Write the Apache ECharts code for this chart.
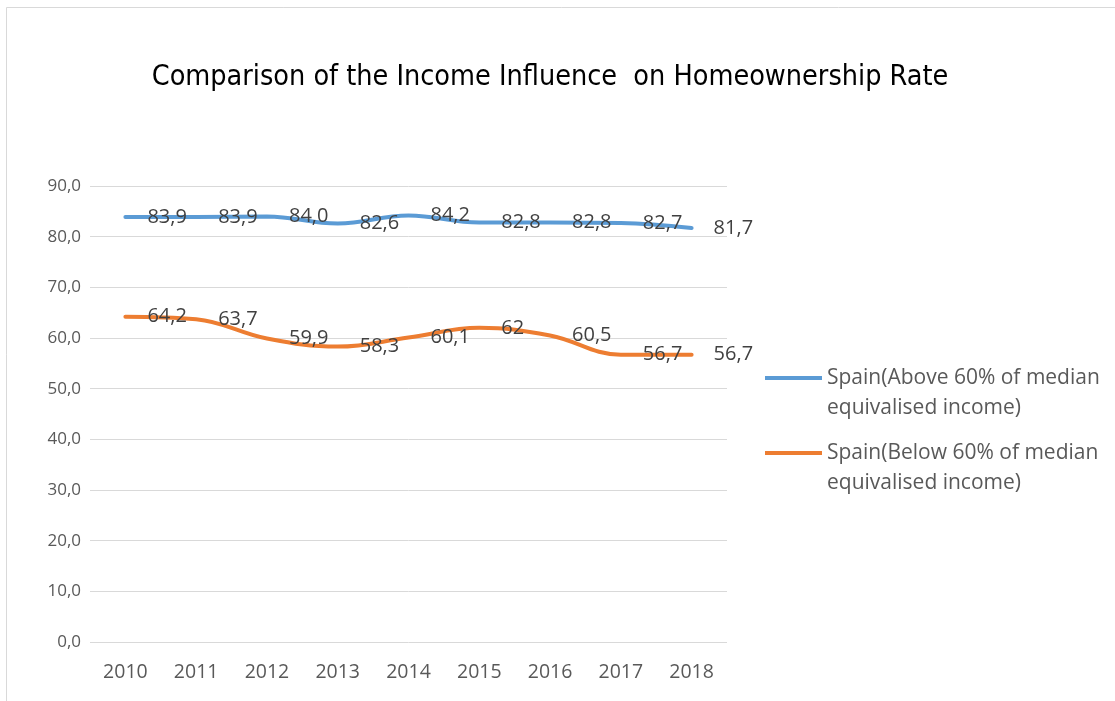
<!DOCTYPE html>
<html>
<head>
<meta charset="utf-8">
<script src="https://cdn.jsdelivr.net/npm/echarts@6/dist/echarts.min.js"></script>
<style>
html,body{margin:0;padding:0;background:#fff;}
#chart{width:1115px;height:701px;}
</style>
</head>
<body>
<div id="chart"></div>
<script>
const titleText = 'Comparison of the Income Influence  on Homeownership Rate';
const years = ['2010','2011','2012','2013','2014','2015','2016','2017','2018'];
const aboveName = 'Spain(Above 60% of median\nequivalised income)';
const belowName = 'Spain(Below 60% of median\nequivalised income)';
const aboveValues = [83.9, 83.9, 84.0, 82.6, 84.2, 82.8, 82.8, 82.7, 81.7];
const belowValues = [64.2, 63.7, 59.9, 58.3, 60.1, 62, 60.5, 56.7, 56.7];
const yMin = 0, yMax = 90, yStep = 10;

const chart = echarts.init(document.getElementById('chart'), null, {renderer: 'canvas'});
const labelFont = 'Open Sans, Noto Sans, sans-serif';
function mkSeries(name, data, color, fmt) {
  return {
    name: name,
    type: 'line',
    data: data,
    smooth: 0.4,
    symbol: 'circle',
    symbolSize: 0,
    showSymbol: true,
    lineStyle: {color: color, width: 4, cap: 'round'},
    itemStyle: {color: color},
    label: {
      show: true,
      position: 'right',
      distance: 22,
      color: '#404040',
      fontSize: 20,
      fontFamily: labelFont,
      formatter: p => fmt(p.value)
    }
  };
}
chart.setOption({
  animation: false,
  backgroundColor: '#fff',
  title: {
    text: titleText,
    left: 545,
    textAlign: 'center',
    top: 58,
    textStyle: {
      fontFamily: 'Liberation Sans Narrow, DejaVu Sans Condensed, sans-serif',
      fontWeight: 'normal',
      fontSize: 28.5,
      color: '#000'
    }
  },
  graphic: [{
    type: 'rect',
    shape: {x: 6.5, y: 7.5, width: 1300, height: 900},
    style: {fill: 'none', stroke: '#d9d9d9', lineWidth: 1},
    silent: true
  }],
  grid: {left: 90, right: 388, top: 186, bottom: 59, containLabel: false},
  legend: {
    orient: 'vertical',
    left: 760,
    top: 328,
    itemWidth: 57,
    itemHeight: 4,
    itemGap: -15,
    icon: 'rect',
    formatter: name => '\n' + name,
    textStyle: {
      color: '#595959',
      fontSize: 21,
      fontFamily: labelFont,
      lineHeight: 30
    },
    data: [aboveName, belowName]
  },
  xAxis: {
    type: 'category',
    data: years,
    boundaryGap: true,
    axisLine: {show: false},
    axisTick: {show: false},
    axisLabel: {color: '#595959', fontSize: 19.5, fontFamily: labelFont, margin: 20}
  },
  yAxis: {
    type: 'value',
    min: yMin, max: yMax, interval: yStep,
    axisLine: {show: false},
    axisTick: {show: false},
    splitLine: {lineStyle: {color: '#d9d9d9', width: 1}},
    axisLabel: {
      color: '#595959', fontSize: 17, fontFamily: labelFont, margin: 9,
      formatter: v => v.toFixed(1).replace('.', ',')
    }
  },
  series: [
    mkSeries(aboveName, aboveValues, '#5B9BD5', v => v.toFixed(1).replace('.', ',')),
    mkSeries(belowName, belowValues, '#ED7D31', v => String(v).replace('.', ','))
  ]
});
</script>
</body>
</html>
